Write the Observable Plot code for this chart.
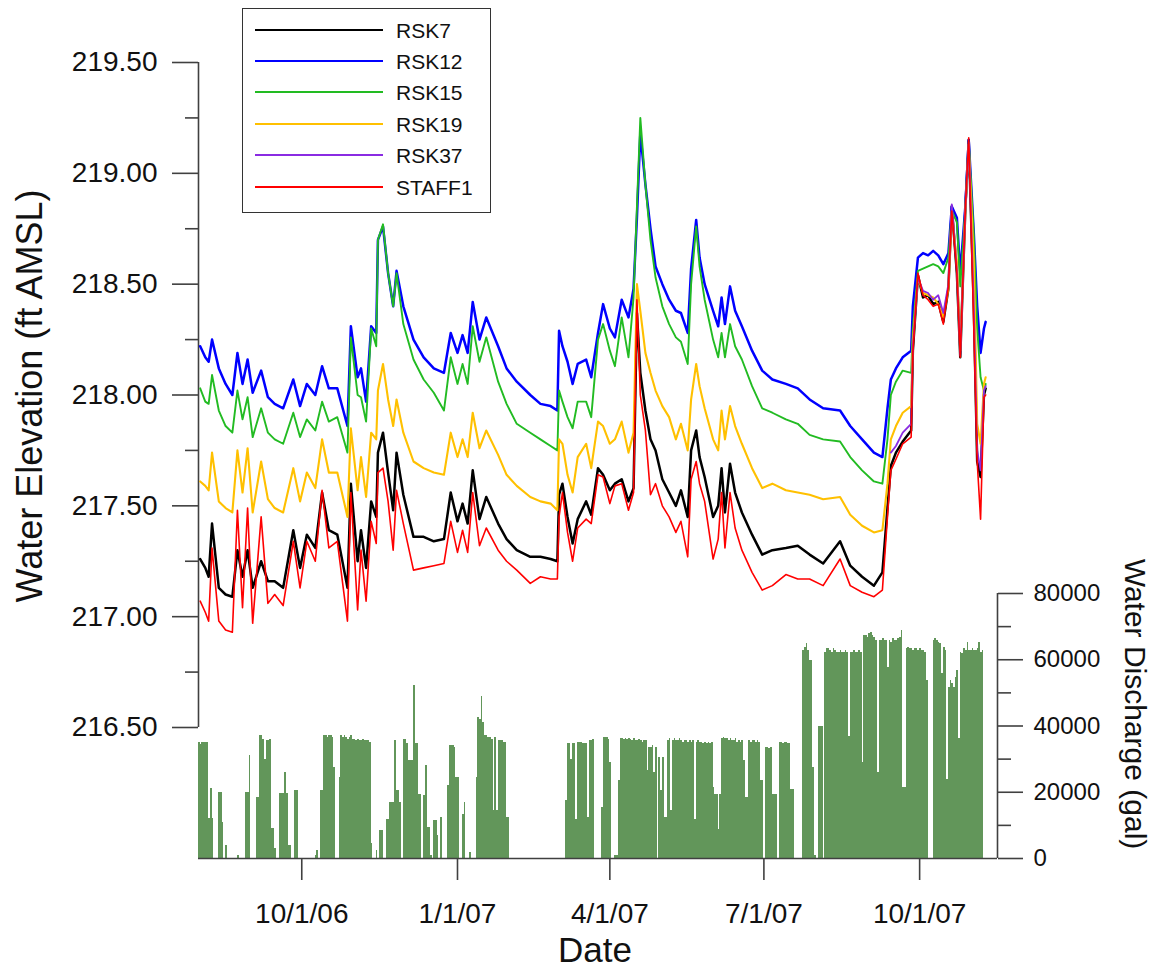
<!DOCTYPE html>
<html>
<head>
<meta charset="utf-8">
<script src="https://cdn.jsdelivr.net/npm/d3@7"></script>
<script src="https://cdn.jsdelivr.net/npm/@observablehq/plot@0.6"></script>
<style>
  html, body { margin: 0; padding: 0; background: #fff; }
  #chart { position: relative; width: 1158px; height: 970px; overflow: hidden; font-family: "Liberation Sans", Arial, sans-serif; color: #111; }
  #chart svg { position: absolute; left: 0; top: 0; }
  .atitle { position: absolute; white-space: nowrap; line-height: 1; color: #111; }
  #legend { position: absolute; left: 242px; top: 8px; width: 249px; height: 205px; box-sizing: border-box; border: 1.5px solid #333; background: #fff; }
  #legend .row { position: absolute; left: 0; width: 100%; height: 0; }
  #legend .swatch { position: absolute; left: 12px; width: 128px; height: 2px; top: -1px; }
  #legend .lab { position: absolute; left: 153px; top: 0; transform: translateY(-50%); font-size: 21px; white-space: nowrap; line-height: 1; color: #111; }
</style>
</head>
<body>
<div id="chart"></div>
<script>
// ---------------- DATA ----------------
const seriesNames = ["RSK7", "RSK12", "RSK15", "RSK19", "RSK37", "STAFF1"];

const dates = [
"2006-08-02","2006-08-05","2006-08-07","2006-08-09","2006-08-13","2006-08-17","2006-08-21","2006-08-24","2006-08-27","2006-08-30",
"2006-09-02","2006-09-07","2006-09-11","2006-09-15","2006-09-20","2006-09-26","2006-09-30","2006-10-04","2006-10-09","2006-10-13",
"2006-10-17","2006-10-22","2006-10-28","2006-10-30","2006-11-03","2006-11-05","2006-11-08","2006-11-11","2006-11-14","2006-11-15",
"2006-11-18","2006-11-21","2006-11-24","2006-11-26","2006-11-30","2006-12-06","2006-12-12","2006-12-18","2006-12-24","2006-12-28",
"2007-01-01","2007-01-04","2007-01-07","2007-01-10","2007-01-14","2007-01-18","2007-01-25","2007-01-30","2007-02-05","2007-02-13",
"2007-02-19","2007-02-25","2007-03-01","2007-03-02","2007-03-04","2007-03-07","2007-03-10","2007-03-13","2007-03-18","2007-03-21",
"2007-03-25","2007-03-28","2007-04-01","2007-04-04","2007-04-08","2007-04-12","2007-04-15","2007-04-17","2007-04-19","2007-04-22",
"2007-04-25","2007-04-28","2007-05-02","2007-05-06","2007-05-10","2007-05-13","2007-05-17","2007-05-19","2007-05-22","2007-05-24",
"2007-05-27","2007-06-01","2007-06-04","2007-06-06","2007-06-08","2007-06-11","2007-06-14","2007-06-18","2007-06-24","2007-06-30",
"2007-07-06","2007-07-14","2007-07-21","2007-07-28","2007-08-05","2007-08-15","2007-08-21","2007-08-28","2007-09-04","2007-09-09",
"2007-09-12","2007-09-14","2007-09-17","2007-09-21","2007-09-26","2007-09-27","2007-09-30","2007-10-03","2007-10-06","2007-10-09",
"2007-10-12","2007-10-15","2007-10-18","2007-10-20","2007-10-23","2007-10-25","2007-10-28","2007-10-30","2007-11-02","2007-11-04",
"2007-11-06","2007-11-08","2007-11-09"];

const rsk7 = [
217.26,217.22,217.18,217.42,217.13,217.10,217.09,217.30,217.18,217.30,
217.13,217.25,217.16,217.16,217.13,217.39,217.22,217.37,217.31,217.56,
217.39,217.37,217.13,217.60,217.25,217.39,217.22,217.52,217.45,217.74,
217.83,217.65,217.48,217.74,217.55,217.36,217.36,217.34,217.35,217.56,
217.43,217.51,217.42,217.66,217.44,217.54,217.42,217.35,217.30,217.27,
217.27,217.26,217.25,217.55,217.60,217.45,217.33,217.44,217.52,217.46,
217.67,217.64,217.57,217.60,217.62,217.52,217.58,218.37,218.10,217.93,
217.80,217.75,217.62,217.56,217.50,217.57,217.45,217.75,217.84,217.72,
217.63,217.45,217.50,217.67,217.47,217.69,217.56,217.47,217.37,217.28,
217.30,217.31,217.32,217.28,217.24,217.34,217.23,217.18,217.14,217.20,
217.49,217.68,217.74,217.79,217.84,218.20,218.54,218.44,218.45,218.41,
218.42,218.33,218.48,218.85,218.55,218.17,218.84,219.15,218.40,217.70,
217.63,218.00,218.03];

const rsk12 = [
218.22,218.17,218.15,218.25,218.12,218.05,218.00,218.19,218.05,218.16,
218.01,218.11,217.99,217.96,217.94,218.07,217.95,218.05,218.00,218.13,
218.03,218.03,217.86,218.31,218.08,218.12,217.97,218.31,218.28,218.70,
218.76,218.55,218.40,218.56,218.40,218.25,218.17,218.12,218.10,218.28,
218.19,218.27,218.19,218.42,218.25,218.35,218.22,218.12,218.06,218.00,
217.96,217.95,217.93,218.29,218.22,218.15,218.05,218.14,218.16,218.08,
218.28,218.41,218.30,218.26,218.43,218.35,218.48,218.80,219.18,218.95,
218.75,218.58,218.50,218.43,218.38,218.37,218.28,218.57,218.79,218.62,
218.50,218.38,218.31,218.44,218.32,218.49,218.38,218.31,218.20,218.11,
218.07,218.05,218.03,217.98,217.94,217.93,217.86,217.80,217.74,217.72,
217.94,218.07,218.12,218.17,218.20,218.40,218.62,218.64,218.63,218.65,
218.63,218.59,218.64,218.85,218.80,218.55,218.85,219.15,218.73,218.40,
218.19,218.30,218.33];

const rsk15 = [
218.03,217.97,217.96,218.09,217.93,217.86,217.83,218.02,217.89,217.99,
217.81,217.94,217.83,217.80,217.78,217.92,217.81,217.89,217.84,217.97,
217.88,217.90,217.74,218.26,218.00,217.99,217.88,218.30,218.22,218.70,
218.77,218.55,218.40,218.55,218.32,218.16,218.07,218.01,217.93,218.17,
218.05,218.14,218.05,218.31,218.15,218.26,218.06,217.96,217.87,217.83,
217.80,217.77,217.75,218.02,217.97,217.90,217.85,217.97,217.97,217.90,
218.25,218.32,218.20,218.13,218.35,218.17,218.44,218.85,219.25,218.95,
218.70,218.53,218.40,218.32,218.26,218.24,218.14,218.50,218.76,218.58,
218.43,218.25,218.17,218.28,218.17,218.32,218.22,218.16,218.04,217.94,
217.92,217.89,217.87,217.82,217.80,217.79,217.72,217.66,217.61,217.60,
217.80,218.00,218.06,218.11,218.10,218.30,218.56,218.57,218.58,218.59,
218.58,218.55,218.62,218.83,218.78,218.49,218.84,219.14,218.72,218.30,
218.08,218.02,218.05];

const rsk19 = [
217.61,217.59,217.57,217.74,217.52,217.49,217.47,217.75,217.56,217.76,
217.47,217.70,217.53,217.49,217.47,217.67,217.52,217.65,217.58,217.80,
217.65,217.65,217.45,217.85,217.57,217.72,217.54,217.83,217.80,218.02,
218.14,217.98,217.86,217.98,217.83,217.70,217.67,217.65,217.64,217.83,
217.72,217.80,217.72,217.92,217.76,217.84,217.73,217.64,217.59,217.54,
217.52,217.51,217.48,217.80,217.78,217.64,217.56,217.72,217.78,217.67,
217.88,217.86,217.78,217.80,217.88,217.74,217.83,218.50,218.38,218.19,
218.10,218.02,217.95,217.90,217.80,217.87,217.75,217.98,218.14,218.04,
217.94,217.80,217.75,217.93,217.80,217.95,217.86,217.78,217.67,217.58,
217.60,217.57,217.56,217.55,217.53,217.54,217.46,217.41,217.38,217.39,
217.60,217.80,217.86,217.92,217.95,218.25,218.53,218.46,218.45,218.44,
218.41,218.35,218.48,218.83,218.60,218.20,218.83,219.13,218.60,217.87,
217.78,218.05,218.08];

const staff1 = [
217.07,217.02,216.98,217.31,216.98,216.94,216.93,217.48,217.04,217.49,
216.97,217.45,217.06,217.10,217.05,217.34,217.13,217.34,217.25,217.57,
217.31,217.34,216.98,217.56,217.03,217.30,217.07,217.43,217.33,217.65,
217.67,217.52,217.30,217.57,217.42,217.21,217.22,217.23,217.24,217.43,
217.29,217.39,217.29,217.56,217.32,217.40,217.30,217.25,217.21,217.15,
217.18,217.17,217.17,217.45,217.56,217.38,217.25,217.40,217.44,217.42,
217.64,217.63,217.51,217.59,217.60,217.48,217.56,218.43,218.00,217.84,
217.55,217.60,217.50,217.45,217.38,217.43,217.27,217.62,217.70,217.60,
217.52,217.26,217.35,217.56,217.31,217.56,217.40,217.30,217.20,217.12,
217.14,217.19,217.17,217.17,217.14,217.26,217.14,217.11,217.09,217.12,
217.45,217.66,217.71,217.78,217.81,218.19,218.55,218.45,218.43,218.40,
218.41,218.32,218.49,218.83,218.55,218.17,218.84,219.16,218.30,217.70,
217.44,217.99,218.00];

const rsk37Dates = [
"2007-09-14","2007-09-17","2007-09-21","2007-09-26","2007-09-27","2007-09-30","2007-10-03","2007-10-06","2007-10-09","2007-10-12",
"2007-10-15","2007-10-18","2007-10-20","2007-10-23","2007-10-25","2007-10-28","2007-10-30","2007-11-02","2007-11-04","2007-11-06",
"2007-11-08","2007-11-09"];
const rsk37 = [
217.74,217.77,217.83,217.87,218.22,218.53,218.47,218.46,218.43,218.45,
218.37,218.50,218.86,218.56,218.18,218.84,219.14,218.40,217.75,217.66,
218.02,218.04];

// daily water discharge (gal), one value per day starting at dischargeStart
const dischargeStart = "2006-08-01";
const discharge = [
35000,34500,35000,35000,35000,35000,12000,21000,12000,0,
0,0,20000,20000,11000,0,4000,0,0,0,
0,0,0,1000,0,0,0,0,20000,20000,
31000,0,0,0,18500,18500,37000,37000,36000,30000,
35500,35500,36000,9000,9000,3000,0,0,19500,19500,
19500,26000,19500,4000,4000,0,0,20500,20500,0,
0,0,0,0,0,0,0,0,0,900,
2500,0,20500,20500,37000,37000,36500,37000,37000,36500,
27500,0,0,24500,37000,36500,37000,36500,36000,36500,
37000,36000,36000,35500,36000,35500,35500,36000,35500,35500,
35500,35000,4400,0,0,2400,0,8400,8400,0,
0,11900,11900,16900,16900,16900,35500,20400,20400,16900,
0,36000,36000,34600,29600,29600,29600,52300,34600,34600,
19400,19400,0,19000,28000,9400,9400,1000,0,11400,
11400,7000,0,12400,0,0,0,22000,34100,34100,
34100,33500,24500,24500,0,0,13400,16900,0,0,
1900,0,0,0,24500,42700,42000,48800,41000,37100,
37100,36500,36500,36000,14500,36600,14500,35600,35600,35600,
35000,35000,12400,12400,0,0,0,0,0,0,
0,0,0,0,0,0,0,0,0,0,
0,0,0,0,0,0,0,0,0,0,
0,0,0,0,0,0,0,17400,34600,34600,
30000,34600,34600,11900,35000,35000,35000,34600,34600,34600,
12400,35600,35600,36000,0,0,0,0,15500,36600,
36600,36600,36000,29100,0,0,900,900,23500,36100,
36100,36000,36100,35800,36100,36000,35600,36100,35600,35600,
35800,35600,35100,35600,35600,26600,33600,33600,34100,26000,
33600,0,30600,20400,30600,12400,12400,35600,36100,14500,
35600,36100,35600,35600,36100,35600,35100,35600,35600,35100,
35600,35100,35600,11900,35100,35600,35100,35100,34600,35100,
34600,35100,34600,35100,21400,19400,19400,8900,19400,36100,
36600,36100,36100,35600,36100,35600,35600,36100,35100,35600,
35100,35600,29600,18500,18500,35600,35100,35600,35600,35100,
35600,35100,23500,23500,0,33600,33600,33100,33600,19400,
19400,19400,0,35100,35100,34600,35100,35100,34600,34600,
20900,20900,0,0,0,0,0,62800,63800,64800,
62800,59800,59800,27600,1000,0,39700,39700,39700,0,
62300,63300,63300,62800,62300,63300,62800,62300,62300,62800,
62300,62300,62800,62300,36700,62300,62300,62800,62300,62300,
62800,62300,29100,67300,67300,66800,67800,68300,67300,66800,
65800,26000,65800,65800,66300,65800,65800,57800,65800,65300,
66300,65800,65800,66300,66800,68800,21400,21400,63300,63800,
63300,63300,62800,63300,63300,62800,63300,62800,62800,62300,
53700,0,0,0,65800,66300,65800,65300,64800,55700,
63800,62800,23800,51700,53700,52700,51700,54700,56700,36200,
62300,61800,63300,62800,65300,62800,62800,63300,62800,62800,
63300,65300,62300,62800];

// axis ticks
const xDomainDates = ["2006-08-01", "2007-11-16"];
const dateTicks = ["2006-10-01", "2007-01-01", "2007-04-01", "2007-07-01", "2007-10-01"];
const elevTicks = [216.5, 217, 217.5, 218, 218.5, 219, 219.5];
const elevMinorTicks = [216.75, 217.25, 217.75, 218.25, 218.75, 219.25];
const dischTicks = [0, 20000, 40000, 60000, 80000];
const dischMinorTicks = [10000, 30000, 50000, 70000];

// ---------------- STYLE ----------------
const seriesColors = ["#000000", "#0000ff", "#22bb22", "#ffc000", "#8a2be2", "#ff0000"];
const seriesWidths = [2.5, 2.5, 1.9, 2.1, 1.8, 1.6];
const axisColor = "#404040";
const barColor = "#62965a";
const fontFamily = '"Liberation Sans", Arial, Helvetica, sans-serif';

// ---------------- BUILD ----------------
const parse = s => new Date(s + "T00:00:00Z");
const seriesValues = {RSK7: rsk7, RSK12: rsk12, RSK15: rsk15, RSK19: rsk19, RSK37: rsk37, STAFF1: staff1};
const seriesDates = {RSK7: dates, RSK12: dates, RSK15: dates, RSK19: dates, RSK37: rsk37Dates, STAFF1: dates};
for (const n of seriesNames) {
  if (seriesValues[n].length !== seriesDates[n].length) throw new Error(n + " length " + seriesValues[n].length + " vs " + seriesDates[n].length);
}
const lineRows = seriesNames.map(n => seriesValues[n].map((v, i) => ({series: n, date: parse(seriesDates[n][i]), value: v})));

const start = parse(dischargeStart);
const barRows = discharge.map((v, i) => ({start: d3.utcDay.offset(start, i), end: d3.utcDay.offset(start, i + 1), value: v})).filter(d => d.value > 0);

const xDomain = xDomainDates.map(parse);
const W = 1158, H = 970;

const plotLines = Plot.plot({
  width: W, height: H,
  marginLeft: 198, marginRight: 161, marginTop: 62, marginBottom: 243,
  style: {background: "transparent", fontFamily, color: "#111", overflow: "visible"},
  x: {type: "utc", domain: xDomain, axis: null},
  y: {domain: [216.5, 219.5], label: null},
  marks: [
    Plot.ruleX([xDomain[0]], {y1: 216.5, y2: 219.5, stroke: axisColor, strokeWidth: 1.6}),
    Plot.axisY(elevTicks, {tickSize: 26, tickPadding: 15, fontSize: 28, tickFormat: d3.format(".2f"), stroke: axisColor, fill: "#111", strokeWidth: 1.6, label: null}),
    Plot.axisY(elevMinorTicks, {tickSize: 13, tickFormat: () => "", stroke: axisColor, strokeWidth: 1.6, label: null}),
    ...seriesNames.map((n, i) => Plot.line(lineRows[i], {x: "date", y: "value", stroke: seriesColors[i], strokeWidth: seriesWidths[i]}))
  ]
});

const plotBars = Plot.plot({
  width: W, height: H,
  marginLeft: 198, marginRight: 161, marginTop: 593, marginBottom: 112,
  style: {background: "transparent", fontFamily, color: "#111", overflow: "visible"},
  x: {type: "utc", domain: xDomain, label: null},
  y: {domain: [0, 80000], label: null},
  marks: [
    Plot.rectY(barRows, {x1: "start", x2: "end", y: "value", fill: barColor, inset: 0, shapeRendering: "crispEdges"}),
    Plot.ruleY([0], {stroke: axisColor, strokeWidth: 1.6}),
    Plot.ruleX([xDomain[1]], {y1: 0, y2: 80000, stroke: axisColor, strokeWidth: 1.6}),
    Plot.axisY(dischTicks, {anchor: "right", tickSize: 25, tickPadding: 11, fontSize: 24, tickFormat: d3.format("d"), stroke: axisColor, fill: "#111", strokeWidth: 1.6, label: null}),
    Plot.axisY(dischMinorTicks, {anchor: "right", tickSize: 13, tickFormat: () => "", stroke: axisColor, strokeWidth: 1.6, label: null}),
    Plot.axisX(dateTicks.map(parse), {tickSize: 22, tickPadding: 23, fontSize: 28, tickFormat: d3.utcFormat("%-m/%-d/%y"), stroke: axisColor, fill: "#111", strokeWidth: 1.6, label: null})
  ]
});

const chart = document.getElementById("chart");
chart.appendChild(plotBars);
chart.appendChild(plotLines);

// axis titles
function addTitle(text, cx, cy, size, rot) {
  const el = document.createElement("div");
  el.className = "atitle";
  el.textContent = text;
  el.style.left = cx + "px";
  el.style.top = cy + "px";
  el.style.fontSize = size + "px";
  el.style.transform = "translate(-50%,-50%) rotate(" + rot + "deg)";
  chart.appendChild(el);
}
addTitle("Water Elevation (ft AMSL)", 30, 396, 36, -90);
addTitle("Water Discharge (gal)", 1135, 704, 30, 90);
addTitle("Date", 595, 949, 35, 0);

// legend
const legend = document.createElement("div");
legend.id = "legend";
const rowTops = [21, 52, 83, 115, 146, 178];
seriesNames.forEach((n, i) => {
  const row = document.createElement("div");
  row.className = "row";
  row.style.top = rowTops[i] + "px";
  const sw = document.createElement("div");
  sw.className = "swatch";
  sw.style.background = seriesColors[i];
  const lab = document.createElement("div");
  lab.className = "lab";
  lab.textContent = n;
  row.appendChild(sw);
  row.appendChild(lab);
  legend.appendChild(row);
});
chart.appendChild(legend);
</script>
</body>
</html>
